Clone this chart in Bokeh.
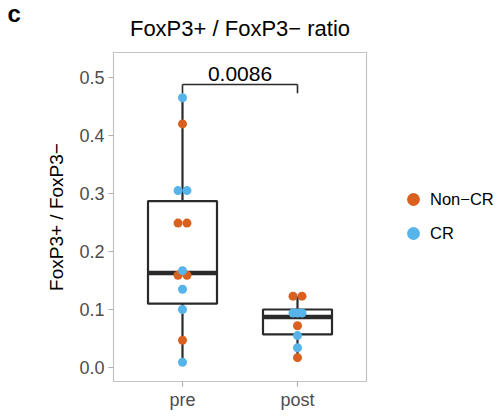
from bokeh.plotting import figure
from bokeh.models import (ColumnDataSource, FixedTicker, Label, Legend, LegendItem,
                          NumeralTickFormatter)
from bokeh.embed import file_html
from bokeh.resources import INLINE
import numpy as np

# ---------------- data ----------------
categories = ["pre", "post"]
pre_values = [0.465, 0.420, 0.305, 0.305, 0.249, 0.249, 0.167, 0.159, 0.159,
              0.135, 0.100, 0.047, 0.009]
pre_groups = ["CR", "Non-CR", "CR", "CR", "Non-CR", "Non-CR", "CR", "Non-CR",
              "Non-CR", "CR", "CR", "Non-CR", "CR"]
post_values = [0.123, 0.123, 0.094, 0.094, 0.094, 0.072, 0.055, 0.034, 0.017]
post_groups = ["Non-CR", "Non-CR", "CR", "CR", "CR", "Non-CR", "CR", "CR", "Non-CR"]

# box statistics (lower whisker, Q1, median, Q3, upper whisker)
whisker_low = [0.009, 0.017]
q1 = [0.110, 0.057]
median = [0.163, 0.087]
q3 = [0.287, 0.100]
whisker_high = [0.465, 0.123]

p_value_text = "0.0086"
bracket_y = 0.488
bracket_leg_y = 0.473

legend_labels = ["Non-CR", "CR"]
legend_display = {"Non-CR": "Non\u2212CR", "CR": "CR"}
colors = {"Non-CR": "#D9601F", "CR": "#56B4E9"}

FONT = "Liberation Sans"

# ---------------- figure ----------------
x_lo, x_hi = 0.4, 2.6
y_lo, y_hi = -0.0241, 0.5431
p = figure(width=497, height=418, frame_width=253, frame_height=329,
           output_backend="svg", toolbar_location=None,
           x_range=(x_lo, x_hi), y_range=(y_lo, y_hi),
           min_border_left=113, min_border_right=131,
           min_border_top=52, min_border_bottom=37,
           title="FoxP3+ / FoxP3\u2212 ratio")
p.title.align = "center"
p.title.text_font = FONT
p.title.text_font_size = "22px"
p.title.text_font_style = "normal"
p.title.text_color = "black"
p.title.standoff = 24
p.background_fill_color = "white"
p.border_fill_color = "white"
p.outline_line_color = "#C4C4C4"
p.outline_line_width = 1.2
p.xgrid.visible = False
p.ygrid.visible = False

xpos = {c: i + 1 for i, c in enumerate(categories)}

# axes
p.xaxis.ticker = FixedTicker(ticks=[xpos[c] for c in categories])
p.xaxis.major_label_overrides = {xpos[c]: c for c in categories}
p.yaxis.ticker = FixedTicker(ticks=[0.0, 0.1, 0.2, 0.3, 0.4, 0.5])
p.yaxis.formatter = NumeralTickFormatter(format="0.0")
for ax in (p.xaxis[0], p.yaxis[0]):
    ax.axis_line_color = None
    ax.major_tick_line_color = "#B0B0B0"
    ax.major_tick_line_width = 1.2
    ax.major_tick_out = 5
    ax.major_tick_in = 0
    ax.minor_tick_line_color = None
    ax.major_label_text_font = FONT
    ax.major_label_text_font_size = "18px"
    ax.major_label_text_color = "#4D4D4D"
p.xaxis.major_label_standoff = 3
p.yaxis.major_label_standoff = 4
p.yaxis.axis_label = "FoxP3+ / FoxP3\u2212"
p.yaxis.axis_label_text_font = FONT
p.yaxis.axis_label_text_font_size = "19px"
p.yaxis.axis_label_text_font_style = "normal"
p.yaxis.axis_label_text_color = "black"
p.yaxis.axis_label_standoff = 9

# ---------------- boxes ----------------
box_x = [xpos[c] for c in categories]
half_w = 0.3
box_src = ColumnDataSource(dict(
    x=box_x, left=[x - half_w for x in box_x], right=[x + half_w for x in box_x],
    lo=whisker_low, q1=q1, med=median, q3=q3, hi=whisker_high))
line_col = "#2A2A2A"
p.segment(x0="x", x1="x", y0="q3", y1="hi", source=box_src, line_color=line_col, line_width=2.2)
p.segment(x0="x", x1="x", y0="lo", y1="q1", source=box_src, line_color=line_col, line_width=2.2)
p.quad(left="left", right="right", bottom="q1", top="q3", source=box_src,
       fill_color="white", line_color=line_col, line_width=2.2)
p.segment(x0="left", x1="right", y0="med", y1="med", source=box_src,
          line_color=line_col, line_width=4.5)

# ---------------- points (beeswarm for ties) ----------------
def swarm(values, center, width=0.078):
    vals = np.array(values)
    xs = np.full(len(vals), float(center))
    used = np.zeros(len(vals), bool)
    for i in range(len(vals)):
        if used[i]:
            continue
        idx = np.where((np.abs(vals - vals[i]) < 1e-6) & ~used)[0]
        used[idx] = True
        n = len(idx)
        if n > 1:
            xs[idx] = center + np.linspace(-width / 2, width / 2, n)
    return xs

all_x, all_y, all_g = [], [], []
for c, vals, grps in (("pre", pre_values, pre_groups), ("post", post_values, post_groups)):
    xs = swarm(vals, xpos[c])
    all_x += list(xs)
    all_y += list(vals)
    all_g += list(grps)

for g in legend_labels:
    sel = [i for i, gg in enumerate(all_g) if gg == g]
    src = ColumnDataSource(dict(x=[all_x[i] for i in sel], y=[all_y[i] for i in sel]))
    p.scatter("x", "y", source=src, size=9, fill_color=colors[g], line_color=None)

# ---------------- significance bracket ----------------
x1, x2 = xpos["pre"], xpos["post"]
br_src = ColumnDataSource(dict(x0=[x1, x1, x2], y0=[bracket_y, bracket_leg_y, bracket_leg_y],
                               x1=[x2, x1, x2], y1=[bracket_y, bracket_y, bracket_y]))
p.segment(x0="x0", y0="y0", x1="x1", y1="y1", source=br_src, line_color=line_col, line_width=1.6)
p.add_layout(Label(x=(x1 + x2) / 2, y=0.5057, text=p_value_text, text_align="center",
                   text_baseline="alphabetic", text_font=FONT, text_font_size="21px",
                   text_color="black"))

# ---------------- panel letter (in the left side panel) ----------------
p.add_layout(Label(x=-23, y=368, x_units="screen", y_units="screen", text="c",
                   text_align="left", text_baseline="alphabetic", text_font=FONT,
                   text_font_size="24px", text_font_style="bold", text_color="black"),
             "left")

# ---------------- legend (key-only renderers: one non-drawn NaN point each) ----------------
items = []
for g in legend_labels:
    key_src = ColumnDataSource(dict(x=[np.nan], y=[np.nan]))
    r = p.scatter("x", "y", source=key_src, size=13, fill_color=colors[g], line_color=None)
    items.append(LegendItem(label=legend_display[g], renderers=[r]))
legend = Legend(items=items, location=(31, 132), orientation="vertical",
                glyph_width=32, glyph_height=32, label_height=20, label_standoff=1,
                spacing=2, padding=0, margin=0, border_line_color=None,
                background_fill_alpha=0, label_text_font=FONT,
                label_text_font_size="16.5px", label_text_color="black",
                label_text_baseline="middle")
p.add_layout(legend, "right")

open("out.html", "w").write(file_html(p, INLINE))
